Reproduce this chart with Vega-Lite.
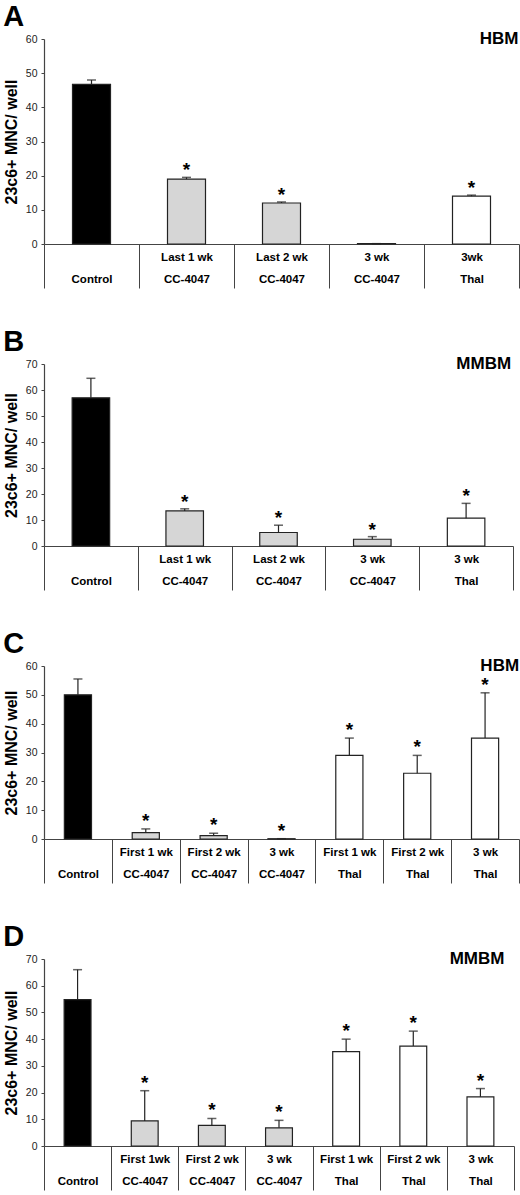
{
  "$schema": "https://vega.github.io/schema/vega-lite/v6.json",
  "padding": {"left": 3, "top": 3, "right": 2, "bottom": 2},
  "background": "white",
  "datasets": {
    "A": [
      {"cat": "|Control", "grp": "Control", "mean": 46.7, "top": 48.0, "star": false},
      {"cat": "Last 1 wk|CC-4047", "grp": "CC-4047", "mean": 19.0, "top": 19.5, "star": true},
      {"cat": "Last 2 wk|CC-4047", "grp": "CC-4047", "mean": 12.0, "top": 12.3, "star": true},
      {"cat": "3 wk|CC-4047", "grp": "CC-4047", "mean": 0.1, "top": 0.1, "star": false},
      {"cat": "3wk|Thal", "grp": "Thal", "mean": 14.0, "top": 14.3, "star": true}
    ],
    "B": [
      {"cat": "|Control", "grp": "Control", "mean": 57.0, "top": 64.5, "star": false},
      {"cat": "Last 1 wk|CC-4047", "grp": "CC-4047", "mean": 13.5, "top": 14.3, "star": true},
      {"cat": "Last 2 wk|CC-4047", "grp": "CC-4047", "mean": 5.2, "top": 8.0, "star": true},
      {"cat": "3 wk|CC-4047", "grp": "CC-4047", "mean": 2.6, "top": 3.6, "star": true},
      {"cat": "3 wk|Thal", "grp": "Thal", "mean": 10.7, "top": 16.4, "star": true}
    ],
    "C": [
      {"cat": "|Control", "grp": "Control", "mean": 50.0, "top": 55.5, "star": false},
      {"cat": "First 1 wk|CC-4047", "grp": "CC-4047", "mean": 2.2, "top": 3.5, "star": true},
      {"cat": "First 2 wk|CC-4047", "grp": "CC-4047", "mean": 1.2, "top": 2.0, "star": true},
      {"cat": "3 wk|CC-4047", "grp": "CC-4047", "mean": 0.1, "top": 0.1, "star": true},
      {"cat": "First 1 wk|Thal", "grp": "Thal", "mean": 29.0, "top": 35.0, "star": true},
      {"cat": "First 2 wk|Thal", "grp": "Thal", "mean": 22.8, "top": 29.0, "star": true},
      {"cat": "3 wk|Thal", "grp": "Thal", "mean": 35.0, "top": 50.7, "star": true}
    ],
    "D": [
      {"cat": "|Control", "grp": "Control", "mean": 54.8, "top": 66.0, "star": false},
      {"cat": "First 1wk|CC-4047", "grp": "CC-4047", "mean": 9.4, "top": 20.7, "star": true},
      {"cat": "First 2 wk|CC-4047", "grp": "CC-4047", "mean": 7.7, "top": 10.3, "star": true},
      {"cat": "3 wk|CC-4047", "grp": "CC-4047", "mean": 6.8, "top": 9.6, "star": true},
      {"cat": "First 1 wk|Thal", "grp": "Thal", "mean": 35.3, "top": 40.0, "star": true},
      {"cat": "First 2 wk|Thal", "grp": "Thal", "mean": 37.4, "top": 43.0, "star": true},
      {"cat": "3 wk|Thal", "grp": "Thal", "mean": 18.4, "top": 21.5, "star": true}
    ]
  },
  "spacing": 39,
  "vconcat": [
    {
      "title": "A",
      "width": 475, "height": 205,
      "data": {"name": "A"},
      "encoding": {
        "x": {"field": "cat", "type": "nominal", "sort": null, "title": null,
              "scale": {"paddingInner": 0, "paddingOuter": 0}}
      },
      "layer": [
        {"mark": {"type": "bar", "width": {"band": 0.4}, "stroke": "#222", "strokeWidth": 1.2},
         "encoding": {
           "y": {"field": "mean", "type": "quantitative", "title": "23c6+ MNC/ well",
                 "scale": {"domain": [0, 60], "nice": false},
                 "axis": {"values": [0, 10, 20, 30, 40, 50, 60], "labelOverlap": false}},
           "fill": {"field": "grp", "type": "nominal", "legend": null,
                    "scale": {"domain": ["Control", "CC-4047", "Thal"], "range": ["#000000", "#d6d6d6", "#ffffff"]}}
         }},
        {"mark": {"type": "rule", "color": "#222", "strokeWidth": 1.2},
         "encoding": {"y": {"field": "mean", "type": "quantitative", "title": "23c6+ MNC/ well",
                            "axis": {"values": [0, 10, 20, 30, 40, 50, 60], "labelOverlap": false}},
                      "y2": {"field": "top"}}},
        {"mark": {"type": "tick", "color": "#222", "size": 9, "thickness": 1.5},
         "encoding": {"y": {"field": "top", "type": "quantitative", "title": "23c6+ MNC/ well",
                            "axis": {"values": [0, 10, 20, 30, 40, 50, 60], "labelOverlap": false}}}},
        {"transform": [{"filter": "datum.star"}],
         "mark": {"type": "text", "text": "*", "fontSize": 19, "fontWeight": "bold", "baseline": "middle", "dy": -7},
         "encoding": {"y": {"field": "top", "type": "quantitative", "title": "23c6+ MNC/ well",
                            "axis": {"values": [0, 10, 20, 30, 40, 50, 60], "labelOverlap": false}}}},
        {"transform": [{"filter": "datum.cat == '3wk|Thal'"}],
         "mark": {"type": "text", "text": "HBM", "fontSize": 17, "fontWeight": "bold", "align": "right", "baseline": "middle", "dx": 47},
         "encoding": {"y": {"datum": 60, "title": "23c6+ MNC/ well",
                            "axis": {"values": [0, 10, 20, 30, 40, 50, 60], "labelOverlap": false}}}}
      ]
    },
    {
      "title": "B",
      "width": 469, "height": 182,
      "data": {"name": "B"},
      "encoding": {
        "x": {"field": "cat", "type": "nominal", "sort": null, "title": null,
              "scale": {"paddingInner": 0, "paddingOuter": 0}}
      },
      "layer": [
        {"mark": {"type": "bar", "width": {"band": 0.4}, "stroke": "#222", "strokeWidth": 1.2},
         "encoding": {
           "y": {"field": "mean", "type": "quantitative", "title": "23c6+ MNC/ well",
                 "scale": {"domain": [0, 70], "nice": false},
                 "axis": {"values": [0, 10, 20, 30, 40, 50, 60, 70], "labelOverlap": false}},
           "fill": {"field": "grp", "type": "nominal", "legend": null,
                    "scale": {"domain": ["Control", "CC-4047", "Thal"], "range": ["#000000", "#d6d6d6", "#ffffff"]}}
         }},
        {"mark": {"type": "rule", "color": "#222", "strokeWidth": 1.2},
         "encoding": {"y": {"field": "mean", "type": "quantitative", "title": "23c6+ MNC/ well",
                            "axis": {"values": [0, 10, 20, 30, 40, 50, 60, 70], "labelOverlap": false}},
                      "y2": {"field": "top"}}},
        {"mark": {"type": "tick", "color": "#222", "size": 9, "thickness": 1.5},
         "encoding": {"y": {"field": "top", "type": "quantitative", "title": "23c6+ MNC/ well",
                            "axis": {"values": [0, 10, 20, 30, 40, 50, 60, 70], "labelOverlap": false}}}},
        {"transform": [{"filter": "datum.star"}],
         "mark": {"type": "text", "text": "*", "fontSize": 19, "fontWeight": "bold", "baseline": "middle", "dy": -7},
         "encoding": {"y": {"field": "top", "type": "quantitative", "title": "23c6+ MNC/ well",
                            "axis": {"values": [0, 10, 20, 30, 40, 50, 60, 70], "labelOverlap": false}}}},
        {"transform": [{"filter": "datum.cat == '3 wk|Thal'"}],
         "mark": {"type": "text", "text": "MMBM", "fontSize": 17, "fontWeight": "bold", "align": "right", "baseline": "middle", "dx": 45},
         "encoding": {"y": {"datum": 70, "title": "23c6+ MNC/ well",
                            "axis": {"values": [0, 10, 20, 30, 40, 50, 60, 70], "labelOverlap": false}}}}
      ]
    },
    {
      "title": "C",
      "width": 475, "height": 173,
      "data": {"name": "C"},
      "encoding": {
        "x": {"field": "cat", "type": "nominal", "sort": null, "title": null,
              "scale": {"paddingInner": 0, "paddingOuter": 0}}
      },
      "layer": [
        {"mark": {"type": "bar", "width": {"band": 0.4}, "stroke": "#222", "strokeWidth": 1.2},
         "encoding": {
           "y": {"field": "mean", "type": "quantitative", "title": "23c6+ MNC/ well",
                 "scale": {"domain": [0, 60], "nice": false},
                 "axis": {"values": [0, 10, 20, 30, 40, 50, 60], "labelOverlap": false}},
           "fill": {"field": "grp", "type": "nominal", "legend": null,
                    "scale": {"domain": ["Control", "CC-4047", "Thal"], "range": ["#000000", "#d6d6d6", "#ffffff"]}}
         }},
        {"mark": {"type": "rule", "color": "#222", "strokeWidth": 1.2},
         "encoding": {"y": {"field": "mean", "type": "quantitative", "title": "23c6+ MNC/ well",
                            "axis": {"values": [0, 10, 20, 30, 40, 50, 60], "labelOverlap": false}},
                      "y2": {"field": "top"}}},
        {"mark": {"type": "tick", "color": "#222", "size": 9, "thickness": 1.5},
         "encoding": {"y": {"field": "top", "type": "quantitative", "title": "23c6+ MNC/ well",
                            "axis": {"values": [0, 10, 20, 30, 40, 50, 60], "labelOverlap": false}}}},
        {"transform": [{"filter": "datum.star"}],
         "mark": {"type": "text", "text": "*", "fontSize": 19, "fontWeight": "bold", "baseline": "middle", "dy": -8},
         "encoding": {"y": {"field": "top", "type": "quantitative", "title": "23c6+ MNC/ well",
                            "axis": {"values": [0, 10, 20, 30, 40, 50, 60], "labelOverlap": false}}}},
        {"transform": [{"filter": "datum.cat == '3 wk|Thal'"}],
         "mark": {"type": "text", "text": "HBM", "fontSize": 17, "fontWeight": "bold", "align": "right", "baseline": "middle", "dx": 34},
         "encoding": {"y": {"datum": 60, "title": "23c6+ MNC/ well",
                            "axis": {"values": [0, 10, 20, 30, 40, 50, 60], "labelOverlap": false}}}}
      ]
    },
    {
      "title": "D",
      "width": 470, "height": 187,
      "data": {"name": "D"},
      "encoding": {
        "x": {"field": "cat", "type": "nominal", "sort": null, "title": null,
              "scale": {"paddingInner": 0, "paddingOuter": 0}}
      },
      "layer": [
        {"mark": {"type": "bar", "width": {"band": 0.4}, "stroke": "#222", "strokeWidth": 1.2},
         "encoding": {
           "y": {"field": "mean", "type": "quantitative", "title": "23c6+ MNC/ well",
                 "scale": {"domain": [0, 70], "nice": false},
                 "axis": {"values": [0, 10, 20, 30, 40, 50, 60, 70], "labelOverlap": false}},
           "fill": {"field": "grp", "type": "nominal", "legend": null,
                    "scale": {"domain": ["Control", "CC-4047", "Thal"], "range": ["#000000", "#d6d6d6", "#ffffff"]}}
         }},
        {"mark": {"type": "rule", "color": "#222", "strokeWidth": 1.2},
         "encoding": {"y": {"field": "mean", "type": "quantitative", "title": "23c6+ MNC/ well",
                            "axis": {"values": [0, 10, 20, 30, 40, 50, 60, 70], "labelOverlap": false}},
                      "y2": {"field": "top"}}},
        {"mark": {"type": "tick", "color": "#222", "size": 9, "thickness": 1.5},
         "encoding": {"y": {"field": "top", "type": "quantitative", "title": "23c6+ MNC/ well",
                            "axis": {"values": [0, 10, 20, 30, 40, 50, 60, 70], "labelOverlap": false}}}},
        {"transform": [{"filter": "datum.star"}],
         "mark": {"type": "text", "text": "*", "fontSize": 19, "fontWeight": "bold", "baseline": "middle", "dy": -8},
         "encoding": {"y": {"field": "top", "type": "quantitative", "title": "23c6+ MNC/ well",
                            "axis": {"values": [0, 10, 20, 30, 40, 50, 60, 70], "labelOverlap": false}}}},
        {"transform": [{"filter": "datum.cat == '3 wk|Thal'"}],
         "mark": {"type": "text", "text": "MMBM", "fontSize": 17, "fontWeight": "bold", "align": "right", "baseline": "middle", "dx": 24},
         "encoding": {"y": {"datum": 70, "title": "23c6+ MNC/ well",
                            "axis": {"values": [0, 10, 20, 30, 40, 50, 60, 70], "labelOverlap": false}}}}
      ]
    }
  ],
  "config": {
    "font": "Liberation Sans",
    "view": {"stroke": null},
    "title": {"fontSize": 29, "fontWeight": "bold", "anchor": "start", "frame": "bounds", "offset": -2, "color": "#000"},
    "axisX": {
      "labelAngle": 0, "tickBand": "extent", "tickSize": 44, "tickColor": "#444", "tickWidth": 1,
      "domainColor": "#444", "domainWidth": 1.2,
      "labelExpr": "split(datum.label, '|')", "labelLineHeight": 22,
      "labelFontSize": 11.5, "labelFontWeight": "bold", "labelColor": "#000",
      "labelPadding": -37, "labelBaseline": "top"
    },
    "axisY": {
      "grid": false, "tickSize": 3, "tickColor": "#444", "domainColor": "#444", "domainWidth": 1.2,
      "labelOverlap": false, "labelFontSize": 10.5, "labelColor": "#222", "labelPadding": 4,
      "titleFontSize": 16, "titleFontWeight": "bold", "titleColor": "#000", "titlePadding": 6
    }
  }
}
